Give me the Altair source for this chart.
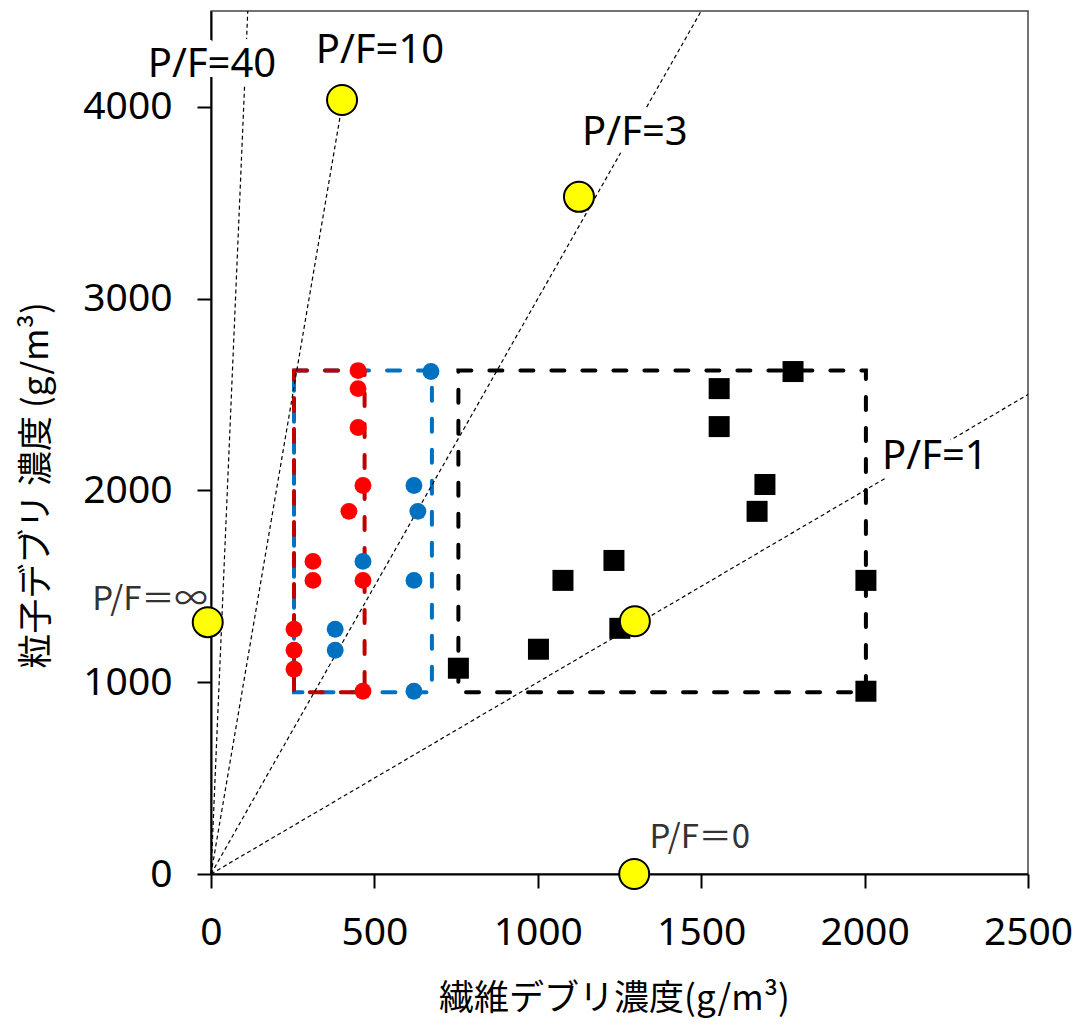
import altair as alt
import pandas as pd

# ---- data ----
red_x = [450, 450, 450, 465, 422, 312, 312, 465, 254, 254, 254, 465]
red_y = [2625, 2531, 2328, 2026, 1891, 1630, 1531, 1531, 1276, 1167, 1068, 953]

blue_x = [673, 621, 633, 465, 621, 380, 380, 621]
blue_y = [2620, 2026, 1891, 1630, 1531, 1276, 1167, 953]

black_x = [1781, 1555, 1555, 1695, 1671, 1233, 1077, 1251, 2004, 2004, 757, 1002]
black_y = [2620, 2531, 2333, 2031, 1891, 1635, 1531, 1281, 1531, 953, 1073, 1172]

# P/F reference points (yellow)
pf_x = [-10, 1297, 1126, 401, 1295]
pf_y = [1313, 1318, 3531, 4036, 0]

# P/F guide lines from origin
line_x0 = [0, 0, 0, 0]
line_y0 = [0, 0, 0, 0]
line_x1 = [112.5, 404, 1500, 2500]
line_y1 = [4500, 4040, 4500, 2500]

# dashed group boxes (blue, red, black)
box_x1 = [254, 254, 757]
box_x2 = [676, 470, 2004]
box_y1 = [948, 948, 948]
box_y2 = [2625, 2625, 2625]
box_col = ["#0070c0", "#c00000", "#000000"]

# labels
lab_text = ["P/F=40", "P/F=10", "P/F=3", "P/F=1"]
lab_x = [3, 517, 1297, 2215]
lab_y = [4219, 4292, 3865, 2172]

small_text = ["P/F\uff1d\u221e", "P/F\uff1d0"]
small_x = [-187, 1496]
small_y = [1427, 188]

x_ticks = [0, 500, 1000, 1500, 2000, 2500]
y_ticks = [0, 1000, 2000, 3000, 4000]

LATIN = "Noto Sans"
CJK = "Noto Sans CJK JP"

xscale = alt.Scale(domain=[0, 2500], nice=False, zero=False)
yscale = alt.Scale(domain=[0, 4500], nice=False, zero=False)

common_axis = dict(
    grid=False, domainColor="black", domainWidth=2, tickColor="black",
    tickWidth=2, tickSize=14, labelFont=LATIN, labelFontSize=39,
    labelColor="black", labelPadding=25, titleFont=CJK, titleFontSize=35,
    titleColor="black", titleFontWeight="normal", labelFlush=False,
    labelOverlap=False, titleAlign="center", titleBaseline="middle",
    format="d",
)
xaxis = alt.Axis(values=x_ticks, title="繊維デブリ濃度(g/m³)",
                 titleX=403, titleY=124, **common_axis)
yaxis = alt.Axis(values=y_ticks, title="粒子デブリ 濃度 (g/m³)",
                 titleX=-175, titleY=474, titleAngle=-90, **common_axis)


def X(f):
    return alt.X(f, type="quantitative", scale=xscale, axis=xaxis)


def Y(f):
    return alt.Y(f, type="quantitative", scale=yscale, axis=yaxis)


boxes = pd.DataFrame({"x": box_x1, "x2": box_x2, "y": box_y1, "y2": box_y2, "c": box_col})
lines = pd.DataFrame({"x": line_x0, "y": line_y0, "x2": line_x1, "y2": line_y1})
red = pd.DataFrame({"x": red_x, "y": red_y})
blue = pd.DataFrame({"x": blue_x, "y": blue_y})
black = pd.DataFrame({"x": black_x, "y": black_y})
pf = pd.DataFrame({"x": pf_x, "y": pf_y})
labs = pd.DataFrame({"x": lab_x, "y": lab_y, "t": lab_text})
smalls = pd.DataFrame({"x": small_x, "y": small_y, "t": small_text})

box_layer = alt.Chart(boxes).mark_rect(
    filled=False, strokeWidth=4, strokeDash=[13, 18], strokeCap="round"
).encode(x=X("x"), x2="x2", y=Y("y"), y2="y2",
         stroke=alt.Stroke("c:N", scale=None))

line_layer = alt.Chart(lines).mark_rule(
    color="black", strokeWidth=1.2, strokeDash=[4, 3]
).encode(x=X("x"), y=Y("y"), x2="x2", y2="y2")

red_layer = alt.Chart(red).mark_circle(size=285, color="#ff0000", opacity=1).encode(x=X("x"), y=Y("y"))
blue_layer = alt.Chart(blue).mark_circle(size=285, color="#0070c0", opacity=1).encode(x=X("x"), y=Y("y"))
black_layer = alt.Chart(black).mark_square(size=441, color="black", opacity=1).encode(x=X("x"), y=Y("y"))

pf_layer = alt.Chart(pf).mark_point(
    shape="circle", size=900, filled=True, fill="#ffff00", stroke="black",
    strokeWidth=2, opacity=1
).encode(x=X("x"), y=Y("y"))

halo = alt.Chart(labs).mark_text(
    font=LATIN, fontSize=40, stroke="white", strokeWidth=18, strokeJoin="round",
    fill="white", align="center", baseline="middle"
).encode(x=X("x"), y=Y("y"), text="t:N")

lab_layer = alt.Chart(labs).mark_text(
    font=LATIN, fontSize=40, color="black", align="center", baseline="middle"
).encode(x=X("x"), y=Y("y"), text="t:N")

small_layer = alt.Chart(smalls).mark_text(
    font=CJK, fontSize=33, color="#333333", align="center", baseline="middle"
).encode(x=X("x"), y=Y("y"), text="t:N")

chart = alt.layer(
    box_layer, line_layer, red_layer, blue_layer, black_layer,
    pf_layer, halo, lab_layer, small_layer
).properties(
    width=817, height=863,
    autosize=alt.AutoSizeParams(type="none"),
    padding={"left": 203, "top": 3, "right": 44, "bottom": 145},
    background="white",
).configure_view(stroke="#444444", strokeWidth=1.5)

chart.save("out.html", embed_options={"renderer": "svg", "actions": False})
